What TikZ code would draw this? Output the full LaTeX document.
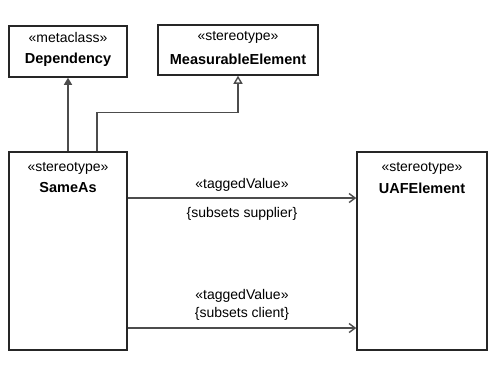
\documentclass[tikz,border=0pt]{standalone}
\usepackage{fontspec}
\setmainfont{Liberation Sans}
\usetikzlibrary{arrows.meta}
\begin{document}
\begin{tikzpicture}[x=1pt,y=-1pt,
  box/.style={draw=black!85,line width=1.5pt,inner sep=0pt},
  stereo/.style={inner sep=0pt,font=\fontsize{14}{16}\selectfont},
  title/.style={inner sep=0pt,font=\fontsize{14.5}{16}\selectfont\bfseries},
  conn/.style={draw=black!70,line width=1.4pt}]
  \useasboundingbox (0,0) rectangle (496,370);
  % classes
  \node[box,minimum width=118pt,minimum height=51pt] (dependency) at (68,51.5) {};
  \node[stereo] (dependency-st) at (68,37) {«metaclass»};
  \node[title] (dependency-nm) at (68,60) {Dependency};
  \node[box,minimum width=160pt,minimum height=50pt] (measurable) at (238,50) {};
  \node[stereo] (measurable-st) at (238,37) {«stereotype»};
  \node[title] (measurable-nm) at (238,59) {MeasurableElement};
  \node[box,minimum width=118pt,minimum height=198pt] (sameas) at (68,251) {};
  \node[stereo] (sameas-st) at (68,168) {«stereotype»};
  \node[title] (sameas-nm) at (68,188) {SameAs};
  \node[box,minimum width=130pt,minimum height=198pt] (uafelement) at (422,251) {};
  \node[stereo] (uafelement-st) at (422,168) {«stereotype»};
  \node[title] (uafelement-nm) at (422,188) {UAFElement};
  % extension and generalization
  \draw[conn,-{Triangle[width=8pt,length=7pt]}] (sameas.north) -- (dependency.south);
  \draw[conn,-{Triangle[open,width=9pt,length=8pt,fill=white]}]
    ([xshift=29pt]sameas.north) -- ++(0,-39) -| (measurable.south);
  % associations
  \draw[conn,-{Straight Barb[width=9pt,length=6pt]}] (sameas.east |- 0,198) --
    node[stereo,above=6pt] (supplier-st) {«taggedValue»}
    node[stereo,below=9pt] (supplier-nm) {\{subsets supplier\}} (uafelement.west |- 0,198);
  \draw[conn,-{Straight Barb[width=9pt,length=6pt]}] (sameas.east |- 0,328) --
    node[stereo,above=7pt,align=center] (client-nm) {«taggedValue»\\[2pt]\{subsets client\}} (uafelement.west |- 0,328);
\end{tikzpicture}
\end{document}
